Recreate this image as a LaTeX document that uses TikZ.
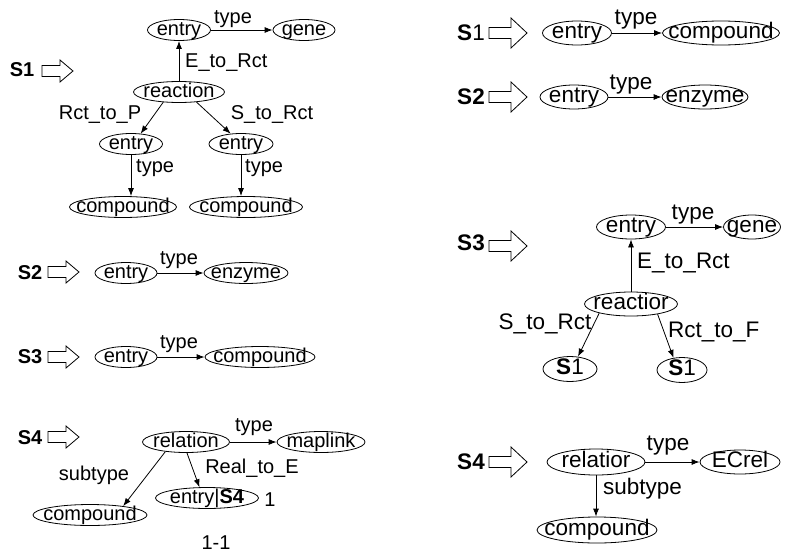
\documentclass[tikz,border=0pt]{standalone}
\usepackage{fontspec}
\setmainfont{Liberation Sans}
\usetikzlibrary{shapes.geometric,arrows.meta}

\tikzset{
  elem/.style={ellipse, draw, line width=0.8pt, inner xsep=-40pt, inner ysep=-20pt,
    text height=14.3pt, text depth=4.2pt, minimum height=21pt},
  lab/.style={inner sep=0pt},
  conn/.style={-{Latex[length=8pt,width=6pt]}, line width=0.8pt},
  bigarr/.style={draw, line width=0.8pt},
}

\begin{document}
\begin{tikzpicture}[x=1pt,y=-1pt,font=\fontsize{20}{24}\selectfont]
\useasboundingbox (0,0) rectangle (786,554);

% left column
\draw[bigarr] (42,71) ++(0,-5.5) -- ++(18,0) -- ++(0,-5.5) -- ++(13,11) -- ++(-13,11) -- ++(0,-5.5) -- ++(-18,0) -- cycle;
\foreach \y in {272,357,437}
  \draw[bigarr] (48,\y) ++(0,-5.5) -- ++(18,0) -- ++(0,-5.5) -- ++(13,11) -- ++(-13,11) -- ++(0,-5.5) -- ++(-18,0) -- cycle;

\node[lab] (s1) at (22,70) {\textbf{S1}};
\node[elem, minimum width=63pt] (e1) at (179,30) {entry};
\node[elem, minimum width=62pt] (g1) at (304,30) {gene};
\node[elem, minimum width=91pt] (r1) at (179,92) {reaction};
\node[elem, minimum width=63pt] (e2) at (131,144) {entry};
\node[elem, minimum width=64pt] (e3) at (241,144) {entry};
\node[elem, minimum width=107pt] (c1) at (123,207) {compound};
\node[elem, minimum width=113pt] (c2) at (246,207) {compound};
\draw[conn] (e1) -- (g1);
\draw[conn] (r1) -- (e1);
\draw[conn] (r1.213) -- (e2.47);
\draw[conn] (r1.330) -- (e3.135);
\draw[conn] (e2.south) -- (e2.south |- c1.north);
\draw[conn] (e3.south) -- (e3.south |- c2.north);
\node[lab] (t1) at (233,19) {type};
\node[lab, anchor=west] (t2) at (185,63) {E\_to\_Rct};
\node[lab] (t3) at (100,115) {Rct\_to\_P};
\node[lab] (t4) at (272,115) {S\_to\_Rct};
\node[lab, anchor=west] (t5) at (136,168) {type};
\node[lab, anchor=west] (t6) at (245,168) {type};

\node[lab] (s2) at (30,273) {\textbf{S2}};
\node[elem, minimum width=62pt] (e4) at (126,273) {entry};
\node[elem, minimum width=84pt] (z1) at (246,273) {enzyme};
\draw[conn] (e4) -- (z1);
\node[lab] (t7) at (179,260) {type};

\node[lab] (s3) at (30,357) {\textbf{S3}};
\node[elem, minimum width=62pt] (e5) at (126,357) {entry};
\node[elem, minimum width=110pt] (c3) at (260,357) {compound};
\draw[conn] (e5) -- (c3);
\node[lab] (t8) at (179,344) {type};

\node[lab] (s4) at (30,438) {\textbf{S4}};
\node[elem, minimum width=87pt] (l1) at (186,442) {relation};
\node[elem, minimum width=88pt] (m1) at (321,442) {maplink};
\node[elem, minimum width=114pt] (c4) at (90,515) {compound};
\node[elem, minimum width=103pt] (e6) at (207,498) {entry|\textbf{S4}};
\draw[conn] (l1) -- (m1);
\draw[conn] (l1.205) -- (c4.15);
\draw[conn] (l1.275) -- (e6.125);
\node[lab] (t9) at (254,427) {type};
\node[lab] (t10) at (94,475) {subtype};
\node[lab] (t11) at (252,468) {Real\_to\_E};
\node[lab] (n1) at (270,500) {1};
\node[lab] (cap) at (216,543) {1-1};

% right column
\begin{scope}[font=\fontsize{22.5}{27}\selectfont,
  elem/.append style={text height=16.1pt, text depth=4.7pt, minimum height=24pt}]
\foreach \y in {33,97,246,462}
  \draw[bigarr] (489,\y) ++(0,-5.5) -- ++(22,0) -- ++(0,-9.5) -- ++(16,15) -- ++(-16,15) -- ++(0,-9.5) -- ++(-22,0) -- cycle;

\node[lab] (s5) at (471,33) {\textbf{S}1};
\node[elem, minimum width=69pt] (e7) at (577,33) {entry};
\node[elem, minimum width=117pt] (c5) at (721,33) {compound};
\draw[conn] (e7) -- (c5);
\node[lab] (t12) at (636,20) {type};

\node[lab] (s6) at (471,97) {\textbf{S2}};
\node[elem, minimum width=68pt] (e8) at (574,97) {entry};
\node[elem, minimum width=86pt] (z2) at (705,97) {enzyme};
\draw[conn] (e8) -- (z2);
\node[lab] (t13) at (631,85) {type};

\node[lab] (s7) at (471,243) {\textbf{S3}};
\node[elem, minimum width=69pt] (e9) at (631,227) {entry};
\node[elem, minimum width=57pt] (g2) at (752,227) {gene};
\node[elem, minimum width=93pt] (r2) at (631,304) {reactior};
\node[elem, minimum width=54pt, minimum height=25pt] (p1) at (570,369) {\textbf{S}1};
\node[elem, minimum width=50pt, minimum height=25pt] (p2) at (682,370) {\textbf{S}1};
\draw[conn] (e9) -- (g2);
\draw[conn] (r2) -- (e9);
\draw[conn] (r2.196) -- (p1.57);
\draw[conn] (r2.339) -- (p2.125);
\node[lab] (t14) at (693,215) {type};
\node[lab, anchor=west] (t15) at (637,263) {E\_to\_Rct};
\node[lab] (t16) at (545,324) {S\_to\_Rct};
\node[lab, anchor=west] (t17) at (668,332) {Rct\_to\_F};

\node[lab] (s8) at (471,462) {\textbf{S4}};
\node[elem, minimum width=98pt, minimum height=26pt] (l2) at (596,462) {relatior};
\node[elem, minimum width=80pt] (x1) at (740,462) {ECrel};
\node[elem, minimum width=120pt, minimum height=26pt] (c6) at (597,530) {compound};
\draw[conn] (l2) -- (x1);
\draw[conn] (l2.south) -- (l2.south |- c6.north);
\node[lab] (t18) at (668,446) {type};
\node[lab, anchor=west] (t19) at (603,489) {subtype};
\end{scope}
\end{tikzpicture}
\end{document}
